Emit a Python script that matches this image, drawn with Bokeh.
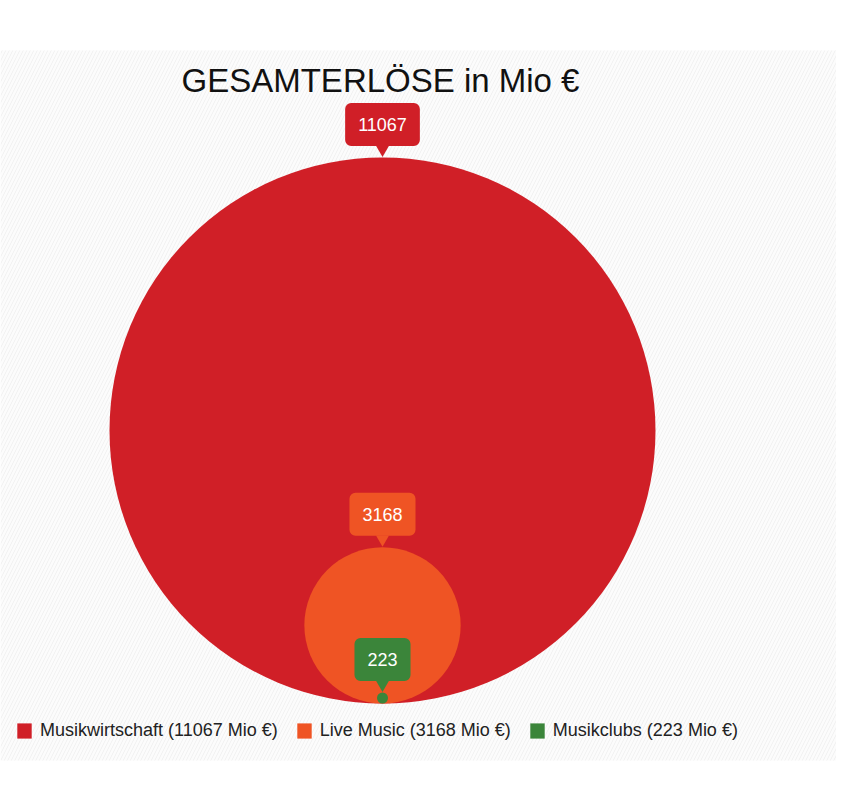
from bokeh.embed import file_html
from bokeh.resources import INLINE
from bokeh.models import Range1d, Legend, LegendItem
from bokeh.plotting import figure
from bokeh.core.properties import value

# data
names = ["Musikwirtschaft", "Live Music", "Musikclubs"]
values = [11067, 3168, 223]
colors = ["#d01f27", "#ef5424", "#3b853a"]
title_text = "GESAMTERLÖSE in Mio €"
unit = "Mio €"

W, H = 836, 792
FONT = "Liberation Sans"

p = figure(width=W, height=H, output_backend="svg", toolbar_location=None,
           x_range=Range1d(0, W), y_range=Range1d(H, 0),
           min_border=0, tools="")
p.axis.visible = False
p.grid.visible = False
p.outline_line_color = None
p.background_fill_color = "white"
p.border_fill_color = "white"

# striped backdrop
p.quad(left=0, right=W, top=50, bottom=760, fill_color="#fcfcfc", line_color=None,
       hatch_pattern="/", hatch_color="#f1f1f1", hatch_scale=7, hatch_weight=1)

# nested circles, radius proportional to value, touching at the bottom
cx, base, rmax = 382, 703, 273
vmax = max(values)
for name, v, c in zip(names, values, colors):
    r = v / vmax * rmax
    p.circle(x=[cx], y=[base - r], radius=r, fill_color=c, line_color=None)

# callout labels
for name, v, c in zip(names, values, colors):
    r = v / vmax * rmax
    top = base - 2 * r
    p.scatter(x=[cx], y=[top - 8], marker="inverted_triangle", size=13,
              fill_color=c, line_color=None)
    p.text(x=[cx], y=[top - 33], text=[str(v)], text_align="center",
           text_baseline="middle", text_color="white", text_font=value(FONT),
           text_font_size="18px", background_fill_color=c, padding=(13, 15),
           border_radius=6)

# title
p.text(x=[380], y=[80], text=[title_text], text_align="center", text_baseline="middle",
       text_color="#111111", text_font=value(FONT), text_font_size="33px")

# legend (swatch renderers sit outside the visible range)
items = []
for name, v, c in zip(names, values, colors):
    rr = p.quad(left=[-60], right=[-40], top=[-60], bottom=[-40], fill_color=c,
                line_color=None)
    items.append(LegendItem(label=f"{name} ({v} {unit})", renderers=[rr]))
legend = Legend(items=items, orientation="horizontal", location=(15, 51),
                padding=0, margin=0, spacing=17, label_standoff=7,
                glyph_width=18, glyph_height=19, label_height=19,
                label_text_font=FONT, label_text_font_size="18px",
                label_text_color="#222222", border_line_color=None,
                background_fill_alpha=0)
p.add_layout(legend, "center")

open("out.html", "w").write(file_html(p, INLINE))
